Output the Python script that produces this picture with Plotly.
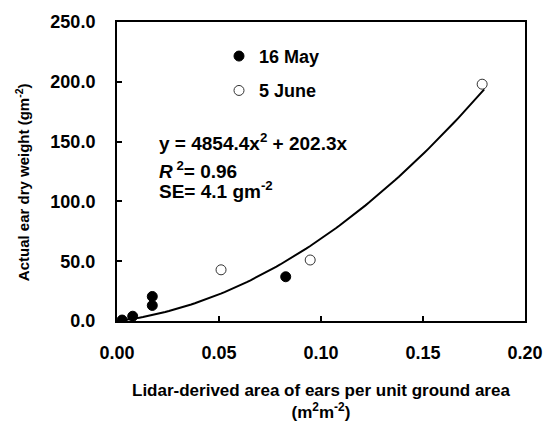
import numpy as np
import plotly.graph_objects as go

# Data
may_x = [0.0025, 0.0077, 0.0173, 0.0173, 0.0827]
may_y = [0.8, 4.0, 20.5, 13.0, 37.0]
june_x = [0.051, 0.0947, 0.179]
june_y = [42.8, 51.0, 198.0]
fit_a, fit_b = 4854.4, 202.3
x_ticks = [0.0, 0.05, 0.10, 0.15, 0.20]
x_tick_labels = ["0.00", "0.05", "0.10", "0.15", "0.20"]
y_ticks = [0, 50, 100, 150, 200, 250]
y_tick_labels = ["0.0", "50.0", "100.0", "150.0", "200.0", "250.0"]

FONT = "Liberation Sans"

fit_x = np.linspace(0, 0.18, 100)
fit_y = fit_a * fit_x**2 + fit_b * fit_x

fig = go.Figure()
fig.add_trace(go.Scatter(x=fit_x, y=fit_y, mode="lines",
                         line=dict(color="black", width=2), showlegend=False,
                         hoverinfo="skip"))
fig.add_trace(go.Scatter(x=may_x, y=may_y, mode="markers", name="<b>16 May</b>",
                         legendgroup="a",
                         marker=dict(symbol="circle", size=10, color="black",
                                     line=dict(color="black", width=1))))
fig.add_trace(go.Scatter(x=june_x, y=june_y, mode="markers", name="<b>5 June</b>",
                         legendgroup="b",
                         marker=dict(symbol="circle", size=10, color="white",
                                     line=dict(color="#333333", width=1))))

fig.update_layout(
    width=555, height=423,
    margin=dict(l=117, r=22, t=17, b=102),
    paper_bgcolor="white", plot_bgcolor="white",
    font=dict(family=FONT, color="black", size=15),
    showlegend=True,
    legend=dict(x=0.25, y=0.947, xanchor="left", yanchor="top",
                bgcolor="rgba(0,0,0,0)", font=dict(size=18, family=FONT),
                tracegroupgap=8, itemwidth=30),
    xaxis=dict(range=[0, 0.2], tickvals=x_ticks, ticktext=["<b>%s</b>" % t for t in x_tick_labels],
               ticks="inside", ticklen=5, tickwidth=1.5, tickcolor="black",
               showline=True, linecolor="black", linewidth=2, mirror=True,
               showgrid=False, zeroline=False, ticklabelstandoff=14,
               tickfont=dict(size=18, family=FONT)),
    yaxis=dict(range=[0, 250], tickvals=y_ticks, ticktext=["<b>%s</b>" % t for t in y_tick_labels],
               ticks="inside", ticklen=5, tickwidth=1.5, tickcolor="black",
               showline=True, linecolor="black", linewidth=2, mirror=True,
               showgrid=False, zeroline=False, ticklabelstandoff=16,
               tickfont=dict(size=18, family=FONT)),
)

# axis titles
fig.add_annotation(xref="paper", yref="paper", x=0.5, y=-0.27, xanchor="center", yanchor="middle",
                   showarrow=False, font=dict(size=17, family=FONT),
                   text="<b>Lidar-derived area of ears per unit ground area<br>(m<sup>2</sup>m<sup>-2</sup>)</b>")
fig.add_annotation(xref="paper", yref="paper", x=-0.233, y=0.464, xanchor="center", yanchor="middle",
                   showarrow=False, textangle=-90, font=dict(size=15, family=FONT),
                   text="<b>Actual ear dry weight (gm<sup>-2</sup>)</b>")

fig.add_annotation(xref="paper", yref="paper", x=0.098, y=0.598, xanchor="left", yanchor="middle",
                   showarrow=False, font=dict(size=19, family=FONT),
                   text="<b>y = 4854.4x<sup>2</sup> + 202.3x</b>")
fig.add_annotation(xref="paper", yref="paper", x=0.098, y=0.505, xanchor="left", yanchor="middle",
                   showarrow=False, font=dict(size=19, family=FONT),
                   text="<b><i>R</i><sup> 2</sup>= 0.96</b>")
fig.add_annotation(xref="paper", yref="paper", x=0.098, y=0.438, xanchor="left", yanchor="middle",
                   showarrow=False, font=dict(size=19, family=FONT),
                   text="<b>SE= 4.1 gm<sup>-2</sup></b>")

fig.write_html("out.html")
